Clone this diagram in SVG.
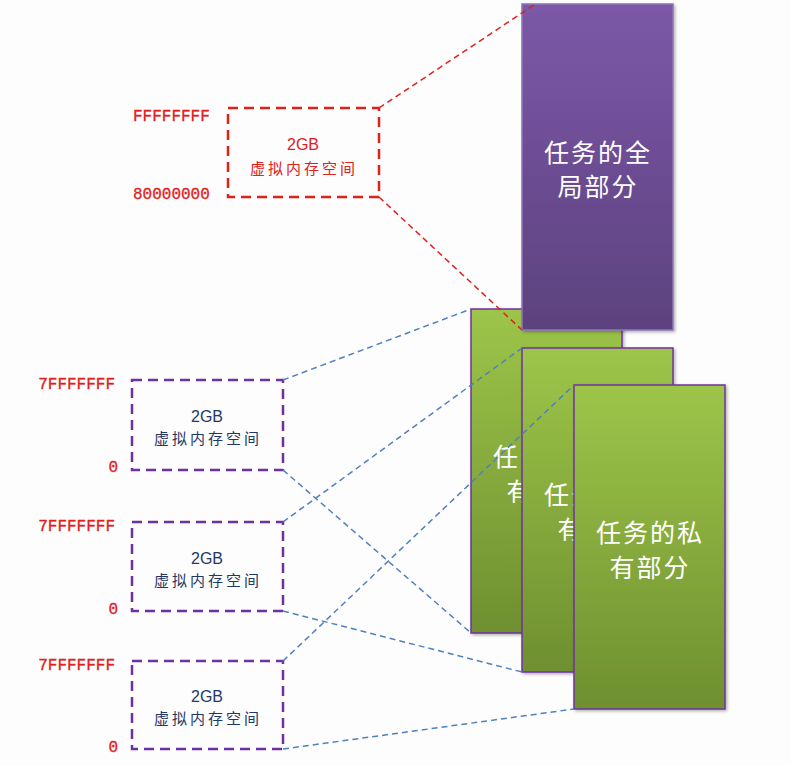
<svg xmlns="http://www.w3.org/2000/svg" width="791" height="766" viewBox="0 0 791 766">
<style>
.addr{font-family:"Liberation Mono","DejaVu Sans Mono",monospace;font-size:16px;fill:#e0201b;stroke:#e0201b;stroke-width:0.3}
.vbox{fill:none;stroke:#7030a0;stroke-width:2.5;stroke-dasharray:10 6}
.rbox{fill:none;stroke:#e0201b;stroke-width:2.5;stroke-dasharray:10 6}
.vt{font-family:"Liberation Sans","Noto Sans CJK SC",sans-serif;font-size:16px;fill:#1f3864;text-anchor:middle}
.vc{font-family:"Noto Sans CJK SC",sans-serif;font-size:15px;fill:#1f3864;text-anchor:middle;letter-spacing:3px}
.rt{fill:#e0201b}
.big{font-family:"Noto Sans CJK SC",sans-serif;font-size:25px;fill:#ffffff;text-anchor:middle;letter-spacing:2px}
.green{fill:url(#gg);stroke:#7030a0;stroke-width:1.5;filter:url(#sh)}
.purple{fill:url(#pg);stroke:#8f76b5;stroke-width:1.5;filter:url(#sh)}
.red{stroke:#e0201b;stroke-width:1.5;stroke-dasharray:6 4;fill:none}
.blue{stroke:#4f81bd;stroke-width:1.5;stroke-dasharray:6 4;fill:none}
</style>
<defs>
<linearGradient id="gg" x1="0" y1="0" x2="0" y2="1"><stop offset="0" stop-color="#9dc549"/><stop offset="1" stop-color="#6f8f30"/></linearGradient>
<linearGradient id="pg" x1="0" y1="0" x2="0" y2="1"><stop offset="0" stop-color="#7c58a8"/><stop offset="1" stop-color="#5c427e"/></linearGradient>
<filter id="sh" x="-10%" y="-10%" width="130%" height="130%"><feDropShadow dx="1.5" dy="1.5" stdDeviation="1.5" flood-color="#000" flood-opacity="0.3"/></filter>
</defs>
<rect width="791" height="766" fill="#fdfdfd"/>

<g id="kernel-space">
<rect class="rbox" x="228" y="108" width="151" height="89"/>
<text class="vt rt" x="303" y="150">2GB</text>
<text class="vc rt" x="304" y="174">虚拟内存空间</text>
<text class="addr" x="133" y="121">FFFFFFFF</text>
<text class="addr" x="133" y="199">80000000</text>
</g>

<g id="user-space-1">
<rect class="vbox" x="132" y="380" width="151" height="90"/>
<text class="vt" x="207" y="422">2GB</text>
<text class="vc" x="208" y="444">虚拟内存空间</text>
<text class="addr" x="115" y="389" text-anchor="end">7FFFFFFF</text>
<text class="addr" x="118" y="472" text-anchor="end">0</text>
</g>

<g id="user-space-2">
<rect class="vbox" x="132" y="522" width="151" height="89"/>
<text class="vt" x="207" y="564">2GB</text>
<text class="vc" x="208" y="586">虚拟内存空间</text>
<text class="addr" x="115" y="531" text-anchor="end">7FFFFFFF</text>
<text class="addr" x="118" y="614" text-anchor="end">0</text>
</g>

<g id="user-space-3">
<rect class="vbox" x="132" y="661" width="151" height="88"/>
<text class="vt" x="207" y="702">2GB</text>
<text class="vc" x="208" y="724">虚拟内存空间</text>
<text class="addr" x="115" y="670" text-anchor="end">7FFFFFFF</text>
<text class="addr" x="118" y="752" text-anchor="end">0</text>
</g>

<g id="private-1">
<rect class="green" x="471" y="309" width="151" height="324"/>
<text class="big" x="547" y="466">任务的私</text>
<text class="big" x="547" y="501">有部分</text>
</g>

<g id="global-part">
<rect class="purple" x="522" y="4" width="151" height="326"/>
<text class="big" x="598" y="162">任务的全</text>
<text class="big" x="598" y="196">局部分</text>
</g>

<g id="private-2">
<rect class="green" x="522" y="348" width="151" height="324"/>
<text class="big" x="598" y="504">任务的私</text>
<text class="big" x="598" y="539">有部分</text>
</g>

<g id="private-3">
<rect class="green" x="574" y="385" width="151" height="324"/>
<text class="big" x="650" y="542">任务的私</text>
<text class="big" x="650" y="577">有部分</text>
</g>

<g id="connectors">
<line class="red" x1="379" y1="108" x2="537" y2="3"/>
<line class="red" x1="379" y1="197" x2="522" y2="330"/>
<line class="blue" x1="283" y1="380" x2="471" y2="309"/>
<line class="blue" x1="283" y1="470" x2="471" y2="633"/>
<line class="blue" x1="283" y1="522" x2="522" y2="348"/>
<line class="blue" x1="283" y1="611" x2="522" y2="672"/>
<line class="blue" x1="283" y1="661" x2="574" y2="385"/>
<line class="blue" x1="283" y1="749" x2="574" y2="709"/>
</g>
</svg>
